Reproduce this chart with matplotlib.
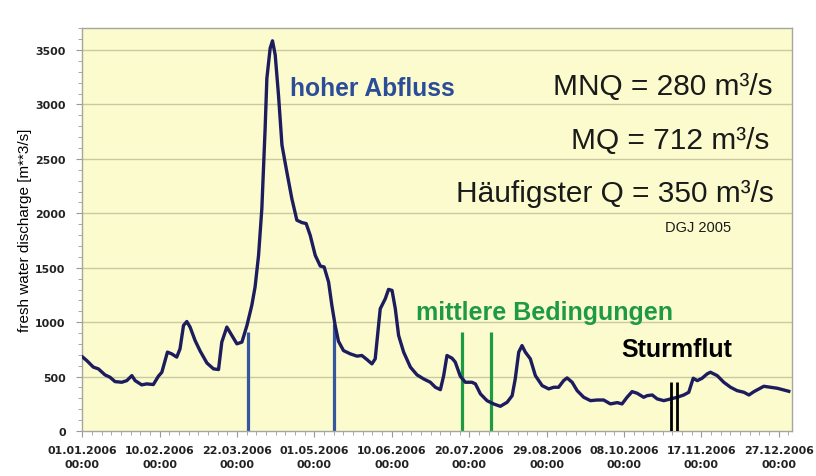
"""Fresh water discharge 2006 with marked situations."""

import datetime
import matplotlib
matplotlib.use('Agg')
import matplotlib.pyplot as plt
from matplotlib.ticker import MultipleLocator, FixedLocator

plt.rcParams['font.family'] = ['Liberation Sans', 'DejaVu Sans']

# Data: days after 01.01.2006 and discharge in m^3/s.
day = [0.2, 2.3, 5.7, 8.3, 11.7, 14.3, 16.9, 20.4, 23.0, 25.6, 27.3, 30.7,
       33.3, 36.7, 39.3, 41.1, 44.0, 46.2, 48.8, 50.5, 52.3, 54.0, 55.7,
       58.3, 60.9, 64.4, 67.8, 70.4, 72.1, 74.7, 77.3, 79.9, 82.5, 85.1,
       87.6, 89.3, 91.1, 92.8, 94.5, 95.4, 97.1, 98.3, 99.7, 101.4, 103.2,
       105.7, 108.3, 110.9, 113.5, 115.7, 117.8, 120.4, 123.0, 125.0, 127.3,
       129.0, 130.7, 132.4, 135.0, 138.5, 142.0, 144.5, 147.1, 149.7, 151.4,
       154.0, 156.6, 158.3, 160.1, 161.8, 163.5, 166.1, 169.6, 173.0, 176.4,
       179.9, 182.5, 185.1, 186.8, 188.5, 191.1, 192.8, 195.4, 198.0, 201.4,
       203.2, 205.8, 209.2, 212.6, 216.1, 219.6, 222.2, 223.8, 225.6, 227.3,
       229.0, 231.6, 234.2, 237.7, 241.1, 243.7, 246.2, 248.8, 250.6, 253.2,
       255.8, 259.2, 262.7, 266.1, 269.5, 273.0, 276.5, 279.0, 281.6, 284.2,
       286.8, 290.2, 292.0, 294.6, 297.2, 300.6, 304.1, 307.5, 310.9, 313.5,
       315.8, 317.9, 320.4, 323.0, 324.7, 328.2, 331.6, 335.1, 338.5, 342.0,
       344.6, 347.2, 349.8, 352.3, 355.8, 359.2, 362.6, 365.2]
discharge = [679, 647, 587, 571, 516, 494, 454, 448, 463, 509, 463, 424,
             433, 427, 503, 540, 725, 709, 679, 755, 970, 1006, 955,
             831, 735, 625, 571, 565, 817, 955, 878, 801, 817, 970,
             1154, 1323, 1614, 2044, 2781, 3241, 3517, 3585, 3456, 3088, 2627,
             2382, 2136, 1937, 1915, 1906, 1798, 1614, 1516, 1507, 1369,
             1154, 970, 825, 739, 709, 688, 694, 657, 617, 663,
             1123, 1215, 1301, 1292, 1123, 878, 725, 587, 516, 479,
             448, 402, 380, 509, 694, 669, 633, 503, 448, 448,
             433, 341, 279, 249, 227, 264, 325, 479, 725, 785,
             725, 663, 509, 417, 387, 402, 402, 463, 488, 448,
             371, 310, 279, 285, 285, 249, 261, 249, 310, 362,
             347, 310, 325, 331, 295, 279, 295, 310, 331, 356,
             485, 463, 485, 525, 540, 509, 448, 402, 371, 356,
             331, 362, 387, 411, 402, 393, 377, 365]

# Marker lines: (day, height) per situation.
high_days = [85.4, 129.9]
high_tops = [910, 980]
mid_days = [196.4, 211.3]
mid_tops = [910, 910]
storm_days = [304.2, 307.5]
storm_tops = [448, 448]

start = datetime.date(2006, 1, 1)
tick_days = list(range(0, 361, 40))
tick_labels = [(start + datetime.timedelta(days=d)).strftime('%d.%m.%Y')
               + '\n00:00' for d in tick_days]

fig = plt.figure(figsize=(8.16, 4.77), dpi=100)
ax = fig.add_axes([0.1009, 0.0943, 0.8700, 0.8443])
ax.set_facecolor('#fbfbcd')

# Grid.
for v in range(500, 3501, 500):
    ax.axhline(v, color='#c9c9a3', linewidth=1.0, zorder=1)

# Situation markers.
ax.vlines(high_days, 0, high_tops, color='#3457a0', linewidth=2.3, zorder=2)
ax.vlines(mid_days, 0, mid_tops, color='#1e9a45', linewidth=2.3, zorder=2)
ax.vlines(storm_days, 0, storm_tops, color='black', linewidth=2.0, zorder=4)

# Discharge curve.
ax.plot(day, discharge, color='#1c1c5e', linewidth=2.4,
        solid_joinstyle='round', zorder=3)

ax.set_xlim(0, 367)
ax.set_ylim(0, 3700)

# Tick labels: wide bold face, as in the original.
tick_font = dict(family='DejaVu Sans', fontweight='bold', fontsize=7.9,
                 color='#222222')
ax.xaxis.set_major_locator(FixedLocator(tick_days))
ax.set_xticklabels(tick_labels, linespacing=1.55, **tick_font)
ax.xaxis.set_minor_locator(MultipleLocator(5))
ax.yaxis.set_major_locator(MultipleLocator(500))
ax.yaxis.set_minor_locator(MultipleLocator(100))
ax.set_yticks(range(0, 3501, 500))
ax.set_yticklabels([str(v) for v in range(0, 3501, 500)], **tick_font)

ax.tick_params(axis='both', which='major', direction='out', length=4,
               color='#999999', width=0.8)
ax.tick_params(axis='both', which='minor', direction='out', length=3,
               color='#999999', width=0.6)
ax.tick_params(axis='x', which='major', pad=6)
ax.tick_params(axis='y', which='major', pad=8)
for s in ax.spines.values():
    s.set_color('#a6a6a0')
    s.set_linewidth(1.0)

ax.set_ylabel('fresh water discharge [m**3/s]', fontsize=11, labelpad=2)

# Annotations.
ax.text(107.5, 3150, 'hoher Abfluss', color='#2b4c98', fontsize=17.7,
        fontweight='bold', va='center', ha='left')
ax.text(172.6, 1095, 'mittlere Bedingungen', color='#1e9a45', fontsize=18,
        fontweight='bold', va='center', ha='left')
ax.text(278.5, 755, 'Sturmflut', color='black', fontsize=18,
        fontweight='bold', va='center', ha='left')

ax.text(356.6, 3170, 'MNQ = 280 m³/s', fontsize=21.5, color='#1a1a1a',
        ha='right', va='center')
ax.text(355.0, 2670, 'MQ = 712 m³/s', fontsize=21.5, color='#1a1a1a',
        ha='right', va='center')
ax.text(357.3, 2190, 'Häufigster Q = 350 m³/s', fontsize=21.5,
        color='#1a1a1a', ha='right', va='center')
ax.text(335.2, 1870, 'DGJ 2005', fontsize=10.5, color='#1a1a1a',
        ha='right', va='center')

plt.savefig('out.png', dpi=100)
